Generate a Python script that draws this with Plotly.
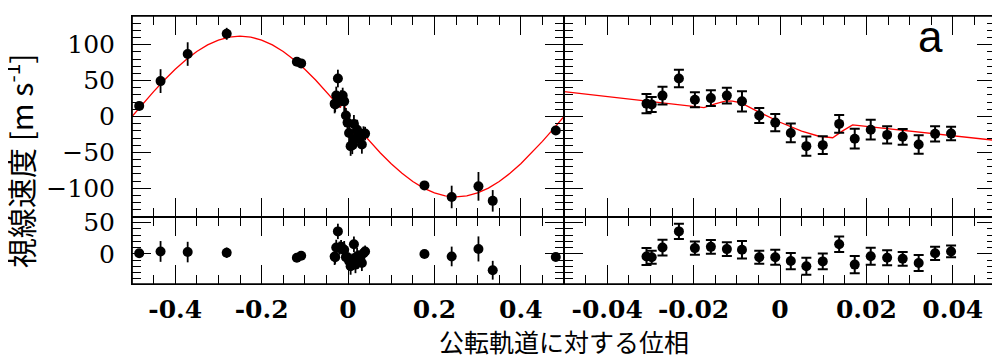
import plotly.graph_objects as go

# ---------------- data ----------------
# full-orbit points (outside the zoomed transit window)
phase_out = [-0.4833, -0.4339, -0.3711, -0.2808, -0.1184, -0.1084, 0.177, 0.240, 0.302, 0.335, 0.481]
rv_out = [14.8, 49.3, 87.0, 115.2, 76.2, 74.0, -96.0, -112.1, -97.3, -117.5, -19.5]
err_out = [4, 16.6, 16.4, 8.3, 4, 4, 4, 15.7, 20, 15, 4]
res_out = [1, 4, 3, 2, -6, -3, 0, -4, 8, -26, -5]

# transit-night points
phase_tr = [-0.0309, -0.0297, -0.0272, -0.0234, -0.0197, -0.0160, -0.0123, -0.0088, -0.0048, -0.0011,
            0.0025, 0.0061, 0.0099, 0.0137, 0.0173, 0.0210, 0.0248, 0.0284, 0.0321, 0.0359, 0.0396]
rv_tr = [17.9, 16.6, 29.1, 52.9, 23.3, 25.6, 29.1, 21.1, 1.3, -8.5,
         -22.9, -41.3, -39.9, -10.3, -30.9, -18.4, -25.6, -28.3, -39.0, -24.2, -23.8]
err_tr = [13.5, 10.5, 12.5, 12.3, 10.5, 11, 11, 14, 10.5, 12,
          13, 13.5, 12.5, 12.3, 13.7, 13.7, 12, 11, 12.8, 10.5, 9.4]
res_tr = [-4.2, -5.2, 10.2, 36, 9.3, 11.3, 7.7, 6.7, -5.2, -5.2,
          -11.4, -19.7, -11.9, 15.5, -17, -3.7, -6.2, -7.7, -14.5, 1, 4]

# model curve (red line)
model_phase = [-0.5, -0.475, -0.45, -0.425, -0.4, -0.375, -0.35, -0.325, -0.3, -0.275, -0.25,
               -0.225, -0.2, -0.175, -0.15, -0.125, -0.1, -0.075, -0.05, -0.04, -0.03,
               -0.0176, -0.015, -0.0125, -0.011, -0.009, -0.005, 0.0, 0.005, 0.009, 0.0122,
               0.0145, 0.0168, 0.02, 0.03, 0.04, 0.05, 0.075, 0.1, 0.125, 0.15, 0.175, 0.2,
               0.225, 0.25, 0.275, 0.3, 0.325, 0.35, 0.375, 0.4, 0.425, 0.45, 0.475, 0.5]
model_rv = [0.0, 17.5, 34.6, 50.8, 65.8, 79.2, 90.6, 99.8, 106.5, 110.6, 112.0,
            110.6, 106.5, 99.8, 90.6, 79.2, 65.8, 50.8, 34.6, 27.9, 20.9,
            12.4, 17.5, 21.8, 21.5, 19.0, 6.5, -8.0, -20.5, -27.5, -29.6,
            -20.0, -11.8, -14.1, -20.9, -27.9, -34.6, -50.8, -65.8, -79.2, -90.6, -99.8, -106.5,
            -110.6, -112.0, -110.6, -106.5, -99.8, -90.6, -79.2, -65.8, -50.8, -34.6, -17.5, 0.0]

phase = phase_out + phase_tr
rv = rv_out + rv_tr
err = err_out + err_tr
res = res_out + res_tr

x_left_ticks = [-0.4, -0.2, 0, 0.2, 0.4]
x_left_text = ["-0.4", "-0.2", "0", "0.2", "0.4"]
x_right_ticks = [-0.04, -0.02, 0, 0.02, 0.04]
x_right_text = ["-0.04", "-0.02", "0", "0.02", "0.04"]
y_top_ticks = [-100, -50, 0, 50, 100]
y_res_ticks = [0, 50]

# ---------------- figure ----------------
fig = go.Figure()

def pts(xa, ya, yv, cap, thick):
    fig.add_trace(go.Scatter(
        x=phase, y=yv, mode="markers", xaxis=xa, yaxis=ya,
        marker=dict(color="black", size=10),
        error_y=dict(type="data", array=err, visible=True, color="black",
                     thickness=thick, width=cap),
        showlegend=False, hoverinfo="skip"))

def model(xa, ya):
    fig.add_trace(go.Scatter(
        x=model_phase, y=model_rv, mode="lines", xaxis=xa, yaxis=ya,
        line=dict(color="#ff0000", width=1.3), showlegend=False, hoverinfo="skip"))

def empty(xa, ya):
    fig.add_trace(go.Scatter(x=[], y=[], mode="markers", xaxis=xa, yaxis=ya,
                             showlegend=False, hoverinfo="skip"))

model("x", "y")
pts("x", "y", rv, 0, 1.8)
model("x2", "y2")
pts("x2", "y2", rv, 5, 2)
pts("x3", "y3", res, 0, 1.8)
pts("x4", "y4", res, 5, 2)
# label-only overlay axes
empty("x", "y5")
empty("x3", "y6")
empty("x5", "y3")
empty("x6", "y4")

TICKFONT_Y = dict(family="DejaVu Serif", size=25, color="black")
TICKFONT_X = dict(family="DejaVu Serif", size=25, color="black", weight="bold")

def xax(dom, anchor, rng, mdtick, tv):
    return dict(domain=dom, anchor=anchor, range=rng, showline=True, linecolor="black",
                mirror="ticks", ticks="inside", ticklen=19, tickwidth=1.3,
                tickcolor="black", showgrid=False, zeroline=False,
                tickmode="array", tickvals=tv,
                minor=dict(ticks="inside", ticklen=9, tickwidth=1.3, tickcolor="black",
                           dtick=mdtick, tick0=0, showgrid=False),
                showticklabels=False)

def yax(dom, anchor, rng):
    return dict(domain=dom, anchor=anchor, range=rng, showline=True, linecolor="black",
                mirror="ticks", ticks="inside", ticklen=19, tickwidth=1.3,
                tickcolor="black", showgrid=False, zeroline=False,
                tickmode="linear", tick0=0, dtick=50,
                minor=dict(ticks="inside", ticklen=9, tickwidth=1.3, tickcolor="black",
                           dtick=10, tick0=0, showgrid=False),
                showticklabels=False)

def xlab(over, anchor, rng, tv, tt):
    return dict(overlaying=over, anchor=anchor, side="bottom", range=rng, ticks="",
                showline=False, showgrid=False, zeroline=False,
                tickmode="array", tickvals=tv, ticktext=tt,
                tickfont=TICKFONT_X, ticklabelstandoff=8)

def ylab(over, anchor, rng, tv):
    return dict(overlaying=over, anchor=anchor, side="left", range=rng, ticks="",
                showline=False, showgrid=False, zeroline=False,
                tickmode="array", tickvals=tv,
                tickfont=TICKFONT_Y, ticklabelstandoff=16)

frames = []
for xa, ya in [("x", "y"), ("x2", "y2"), ("x3", "y3"), ("x4", "y4")]:
    frames.append(dict(type="rect", xref=xa + " domain", yref=ya + " domain",
                       x0=0, x1=1, y0=0, y1=1, line=dict(color="black", width=1.7),
                       fillcolor="rgba(0,0,0,0)", layer="above"))

fig.update_layout(
    xaxis=xax([0, 0.5], "y", [-0.5, 0.5], 0.05, x_left_ticks),
    xaxis2=xax([0.5, 1], "y2", [-0.05, 0.05], 0.005, x_right_ticks),
    xaxis3=xax([0, 0.5], "y3", [-0.5, 0.5], 0.05, x_left_ticks),
    xaxis4=xax([0.5, 1], "y4", [-0.05, 0.05], 0.005, x_right_ticks),
    yaxis=yax([0.25, 1], "x", [-140, 140]),
    yaxis2=yax([0.25, 1], "x2", [-140, 140]),
    yaxis3=yax([0, 0.25], "x3", [-48, 59]),
    yaxis4=yax([0, 0.25], "x4", [-48, 59]),
    xaxis5=xlab("x3", "y3", [-0.5, 0.5], x_left_ticks, x_left_text),
    xaxis6=xlab("x4", "y4", [-0.05, 0.05], x_right_ticks, x_right_text),
    yaxis5=ylab("y", "x", [-140, 140], y_top_ticks),
    yaxis6=ylab("y3", "x3", [-48, 59], y_res_ticks),
    shapes=frames,
    width=1000, height=359,
    margin=dict(l=124, r=12, t=0, b=83),
    paper_bgcolor="white", plot_bgcolor="rgba(0,0,0,0)",
    annotations=[
        dict(text="視線速度 [m s<sup>-1</sup>]", xref="paper", yref="paper", x=0, y=0.5,
             xshift=-113, yshift=-11, textangle=-90, showarrow=False, xanchor="center",
             yanchor="middle", font=dict(family="Noto Sans CJK JP", size=30, color="black")),
        dict(text="公転軌道に対する位相", xref="paper", yref="paper", x=0.5, y=0,
             yshift=-57, showarrow=False, xanchor="center", yanchor="middle",
             font=dict(family="Noto Sans CJK JP", size=25, color="black")),
        dict(text="a", xref="paper", yref="paper", x=1, y=1, xshift=-66, yshift=-20,
             showarrow=False, xanchor="center", yanchor="middle",
             font=dict(family="Liberation Sans", size=44, color="black")),
    ],
)

fig.write_html("out.html")
